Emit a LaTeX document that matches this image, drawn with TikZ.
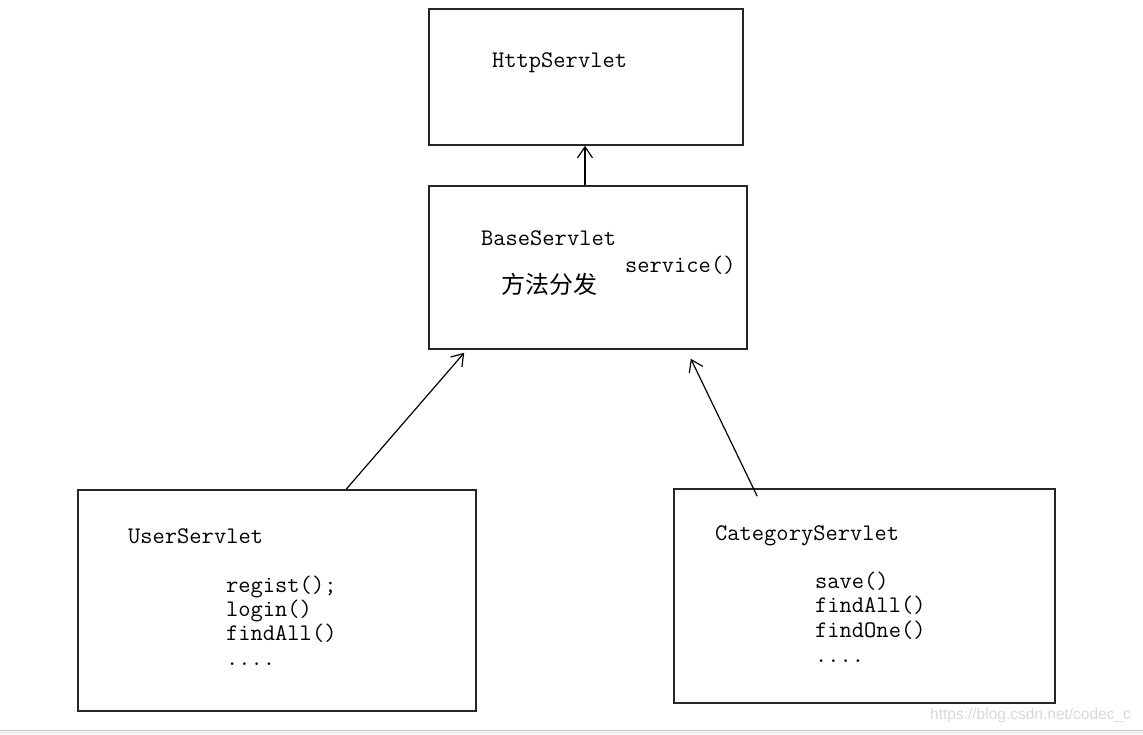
\documentclass[tikz,border=0pt]{standalone}
\usepackage{fontspec}
\newfontfamily\cjk{Noto Sans CJK SC}
\newfontfamily\wmark{Liberation Sans}
\usepackage{tikz}
\usetikzlibrary{arrows.meta}

\tikzset{
    box/.style={draw=black!85, line width=1.6pt, inner sep=0pt},
    lbl/.style={anchor=base west, inner sep=0pt, font=\fontsize{23.8}{24}\selectfont\ttfamily},
    arr/.style={-{Straight Barb[length=11pt,width=15pt]}, line width=1.2pt}
}

\begin{document}
\begin{tikzpicture}[x=1pt,y=-1pt]
    \useasboundingbox[fill=white] (0,0) rectangle (1143,734);
    % boxes
    \node[box, minimum width=314pt, minimum height=136pt] (http) at (586,77) {};
    \node[box, minimum width=318pt, minimum height=163pt] (base) at (588,267.5) {};
    \node[box, minimum width=398pt, minimum height=221pt] (user) at (277,600.5) {};
    \node[box, minimum width=381pt, minimum height=214pt] (cat) at (864.5,596) {};
    % texts
    \node[lbl] (httpname) at (492,67) {HttpServlet};
    \node[lbl] (basename) at (481,245) {BaseServlet};
    \node[lbl] (service) at (625,272) {service()};
    \node[anchor=west, inner sep=0pt, font=\fontsize{24}{24}\selectfont\cjk] (dispatch) at (501,284) {方法分发};
    \node[lbl] (username) at (128,543) {UserServlet};
    \node[lbl] (regist) at (226,592) {regist();};
    \node[lbl] (login) at (226,616) {login()};
    \node[lbl] (userall) at (226,640) {findAll()};
    \node[lbl] (usermore) at (226,665) {....};
    \node[lbl] (catname) at (715,540) {CategoryServlet};
    \node[lbl] (save) at (815,588) {save()};
    \node[lbl] (catall) at (815,612) {findAll()};
    \node[lbl] (findone) at (815,637) {findOne()};
    \node[lbl] (catmore) at (815,662) {....};
    % arrows
    \draw[arr] ([xshift=-3pt]base.north) -- ([xshift=-3pt]base.north |- http.south);
    \draw[arr] ([xshift=269pt]user.north west) -- ([xshift=36pt,yshift=-3pt]base.south west);
    \draw[arr] ([xshift=84pt,yshift=-8pt]cat.north west) -- ([xshift=-57pt,yshift=-9pt]base.south east);
    % page bottom
    \fill[black!6] (0,730) rectangle (1143,734);
    \draw[black!20] (0,730) -- (1143,730);
    \node[anchor=base west, inner sep=0pt, text=black!15, font=\fontsize{15.5}{16}\selectfont\wmark] (mark) at (930,719) {https://blog.csdn.net/codec\_c};
\end{tikzpicture}
\end{document}
